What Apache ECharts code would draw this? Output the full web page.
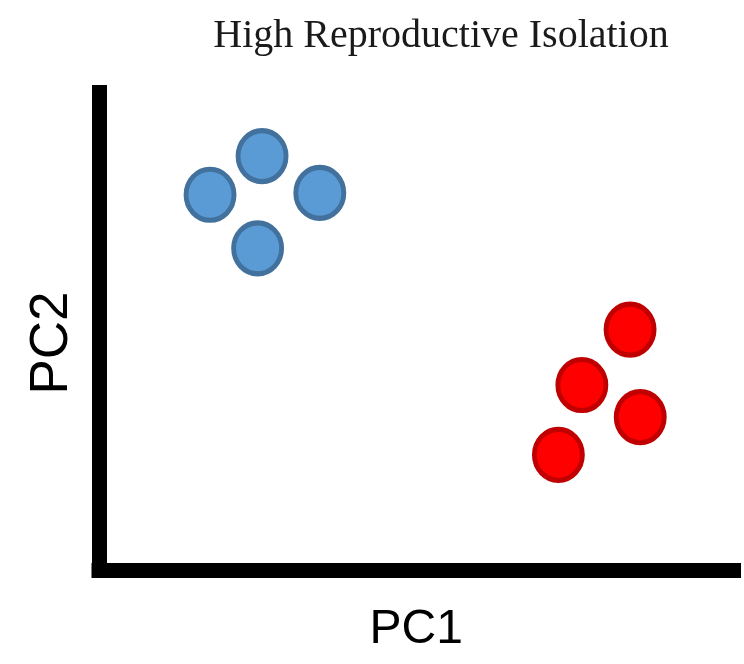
<!DOCTYPE html>
<html>
<head>
<meta charset="utf-8">
<script src="https://cdn.jsdelivr.net/npm/echarts@6/dist/echarts.min.js"></script>
<style>html,body{margin:0;padding:0;background:#fff}#c{width:744px;height:664px}</style>
</head>
<body>
<div id="c"></div>
<script>
var titleText = 'High Reproductive Isolation';
var xName = 'PC1';
var yName = 'PC2';
var groupA = [[25.7, 86.7], [17.5, 78.6], [34.8, 79.0], [25.0, 67.4]];
var groupB = [[83.7, 50.4], [76.1, 38.8], [85.3, 32.1], [72.4, 24.2]];

var chart = echarts.init(document.getElementById('c'), null, {renderer: 'canvas'});
chart.setOption({
  backgroundColor: '#ffffff',
  animation: false,
  title: {
    text: titleText,
    left: 436,
    textAlign: 'center',
    top: 11,
    textStyle: {fontFamily: 'Liberation Serif', fontWeight: 'normal', fontSize: 40, color: '#1a1a1a'}
  },
  grid: {left: 99, right: 10.5, top: 92.5, bottom: 93.5},
  xAxis: {
    type: 'value', min: 0, max: 100,
    name: xName, nameLocation: 'middle', nameGap: 59,
    nameTextStyle: {fontFamily: 'Liberation Sans', fontSize: 48, color: '#000', verticalAlign: 'middle'},
    axisLine: {show: true, lineStyle: {color: '#000', width: 15, cap: 'square'}},
    axisTick: {show: false}, axisLabel: {show: false}, splitLine: {show: false}
  },
  yAxis: {
    type: 'value', min: 0, max: 100,
    name: yName, nameLocation: 'middle', nameGap: 47, nameRotate: 90,
    nameTextStyle: {fontFamily: 'Liberation Sans', fontSize: 53, color: '#000', verticalAlign: 'middle', padding: [0, 23, 0, 0]},
    axisLine: {show: true, lineStyle: {color: '#000', width: 15, cap: 'square'}},
    axisTick: {show: false}, axisLabel: {show: false}, splitLine: {show: false}
  },
  series: [
    {
      type: 'scatter', data: groupA, symbol: 'circle', symbolSize: [48, 51],
      itemStyle: {color: '#5B9BD5', borderColor: '#41719C', borderWidth: 5, opacity: 1}
    },
    {
      type: 'scatter', data: groupB, symbol: 'circle', symbolSize: [48, 51],
      itemStyle: {color: '#FF0000', borderColor: '#C00000', borderWidth: 5, opacity: 1}
    }
  ]
});
</script>
</body>
</html>
